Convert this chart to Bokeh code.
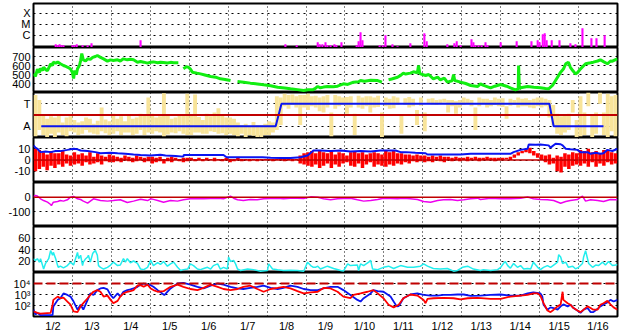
import numpy as np
from bokeh.plotting import figure
from bokeh.layouts import column
from bokeh.models import Range1d, FixedTicker, Grid, Span
from bokeh.embed import file_html
from bokeh.resources import INLINE

nan = float("nan")

# ---------------- data (time in days since 1/2 00:00) ----------------
day_labels = ["1/2", "1/3", "1/4", "1/5", "1/6", "1/7", "1/8", "1/9", "1/10",
              "1/11", "1/12", "1/13", "1/14", "1/15", "1/16"]

# X-ray flares: time, log10 peak flux
flare_t = [0.57, 0.62, 0.67, 0.72, 0.77, 1.00, 1.05, 1.11, 1.26, 1.39, 1.49, 2.75,
           6.47, 6.76, 7.30, 7.35, 7.42, 7.50, 7.55, 7.63, 7.73, 7.78, 7.91, 8.30,
           8.35, 8.40, 8.45, 8.89, 8.97, 9.04, 9.22, 9.35, 9.68, 10.04, 10.10, 10.63,
           10.81, 10.87, 10.97, 11.25, 11.30, 11.35, 11.43, 11.51, 11.61, 11.66, 12.00,
           12.41, 12.79, 12.95, 13.00, 13.08, 13.13, 13.18, 13.31, 13.51, 13.79, 13.92,
           14.10, 14.33, 14.46, 14.67]
flare_logflux = [-6.83, -6.92, -6.83, -6.92, -6.92, -6.92, -6.92, -6.83, -6.92, -6.92, -6.74, -6.46,
                 -6.83, -6.92, -6.65, -6.83, -6.83, -6.65, -6.92, -6.92, -6.83, -6.92, -6.65, -6.92,
                 -6.55, -5.74, -6.46, -6.92, -6.92, -6.01, -6.83, -7.00, -6.74, -5.83, -6.55, -6.83,
                 -6.74, -6.55, -6.92, -6.37, -6.65, -6.92, -6.92, -6.92, -6.65, -6.92, -6.65,
                 -6.55, -6.55, -6.46, -6.65, -5.92, -5.83, -6.46, -6.46, -6.46, -6.74, -6.83,
                 -5.37, -6.28, -6.28, -6.01]

# Solar wind speed (km/s)
speed_t = [0.00, 0.05, 0.10, 0.15, 0.18, 0.23, 0.26, 0.31, 0.36, 0.41, 0.44, 0.49, 0.51, 0.57,
           0.62, 0.69, 0.77, 0.83, 0.87, 0.92, 0.95, 1.00, 1.03, 1.06, 1.10, 1.13, 1.18, 1.21,
           1.24, 1.28, 1.34, 1.39, 1.46, 1.52, 1.59, 1.64, 1.72, 1.80, 1.90, 1.98, 2.05, 2.16,
           2.23, 2.31, 2.41, 2.49, 2.57, 2.67, 2.75, 2.83, 2.93, 3.01, 3.08, 3.19, 3.26, 3.34,
           3.44, 3.52, 3.60, 3.72, 3.75, 3.85, 3.92, 3.98, 4.03, 4.08, 4.20, 4.29, 4.40, 4.55,
           4.68, 4.80, 4.92, 5.06, 5.10, 5.24, 5.40, 5.57, 5.75, 5.91, 6.09, 6.27, 6.45, 6.60,
           6.78, 6.94, 7.05, 7.17, 7.24, 7.30, 7.37, 7.45, 7.55, 7.70, 7.81, 7.96, 8.07, 8.22,
           8.35, 8.40, 8.50, 8.66, 8.84, 8.95, 8.99, 9.12, 9.20, 9.35, 9.43, 9.50, 9.56, 9.68,
           9.76, 9.86, 9.89, 9.92, 9.94, 10.07, 10.15, 10.27, 10.38, 10.45, 10.55, 10.63, 10.75,
           10.79, 10.82, 10.97, 11.10, 11.23, 11.41, 11.48, 11.56, 11.74, 11.85, 12.00, 12.15,
           12.25, 12.38, 12.45, 12.46, 12.48, 12.51, 12.69, 12.85, 13.02, 13.15, 13.23, 13.33,
           13.46, 13.54, 13.61, 13.67, 13.74, 13.79, 13.85, 13.92, 13.97, 14.05, 14.18, 14.31,
           14.38, 14.49, 14.56, 14.65, 14.74, 14.82, 14.87, 14.95, 15.00]
speed_v = [508, 480, 560, 520, 567, 545, 581, 555, 544, 590, 619, 600, 637, 625,
           640, 619, 600, 590, 581, 570, 563, 520, 455, 544, 500, 563, 600, 655,
           733, 663, 650, 674, 668, 690, 700, 711, 690, 674, 648, 663, 655, 663,
           650, 674, 663, 670, 663, 637, 645, 637, 626, 637, 640, 630, 636, 633,
           628, 635, 630, 630, nan, 563, 585, 581, 560, 526, 515, 507, 495, 478,
           470, 452, 445, 433, nan, 422, 415, 404, 395, 385, 375, 359, 350, 341,
           332, 322, 330, 330, 345, 367, 352, 360, 367, 365, 370, 396, 390, 415,
           420, 433, 425, 435, 433, 415, nan, 441, 450, 470, 490, 515, 505, 515,
           530, 520, 600, 515, 507, 489, 500, 452, 470, 441, 460, 415, 430,
           500, 433, 415, 400, 378, 367, 396, 380, 352, 370, 389, 370,
           352, 330, 340, 600, 340, 352, 367, 358, 352, 345, 341, 378,
           470, 526, 560, 619, 637, 580, 544, 507, 520, 563, 619, 630,
           637, 650, 663, 640, 619, 650, 648, 665, 674]

# IMF sector: spread of phi angle (degrees) in 0.1-day bins
phi_t = [0.05 + 0.1 * i for i in range(150)]
phi_lo = [10, 60, 20, 0, 30, 0, 40, 20, 10, 50,
          40, 20, 30, 60, 40, 30, 25, 50, 35, 20,
          30, 50, 20, 40, 40, 20, 30, 60, 20, 40,
          30, 50, 40, 10, 25, 40, 35, 50, 30, 20,
          20, 40, 40, 30, 30, 50, 45, 30, 35, 20,
          30, 20, 10, 30, 0, 20, 15, 0, 5, 20,
          20, 40, 60, 100, 250, 230, 260, 240, 100, 240,
          220, 250, 240, 210, 200, 240, 10, 230, 250, 260,
          190, 240, 20, 240, 230, 250, 200, 240, 245, 0,
          250, 230, 235, 260, 30, 260, 240, 250, 100, 255,
          50, 270, 265, 260, 270, 280, 200, 250, 190, 240,
          260, 270, 250, 60, 250, 270, 240, 250, 260, 250,
          245, 150, 255, 260, 240, 250, 250, 240, 235, 250,
          240, 250, 160, 100, 30, 20, 40, 60, 200, 0,
          10, 20, 250, 0, 30, 270, 20, 0, 50, 10]
phi_hi = [340, 300, 175, 150, 170, 160, 180, 120, 160, 170,
          140, 120, 130, 160, 150, 110, 135, 240, 145, 130,
          190, 150, 170, 130, 185, 150, 160, 190, 180, 320,
          190, 160, 170, 355, 185, 150, 160, 180, 175, 350,
          180, 345, 165, 140, 190, 170, 200, 235, 175, 160,
          160, 150, 120, 100, 110, 90, 125, 100, 100, 110,
          130, 120, 330, 320, 350, 340, 345, 330, 340, 340,
          350, 330, 335, 320, 330, 340, 200, 340, 330, 320,
          325, 330, 190, 335, 320, 330, 330, 320, 335, 200,
          320, 310, 330, 320, 180, 315, 325, 310, 220, 320,
          200, 310, 315, 300, 305, 310, 300, 300, 290, 300,
          320, 310, 300, 240, 320, 310, 310, 300, 320, 310,
          315, 250, 310, 300, 320, 310, 315, 300, 310, 320,
          320, 310, 300, 260, 190, 170, 180, 190, 300, 140,
          330, 200, 360, 180, 200, 360, 200, 350, 330, 340]
sector_t = [0.20, 6.22, 6.37, 13.25, 13.36, 14.64]
sector_v = [90, 90, 270, 270, 90, 90]

# IMF Bt (nT)
bt_t = [0.00, 0.05, 0.10, 0.18, 0.31, 0.44, 0.57, 0.69, 0.87, 1.03, 1.13, 1.21, 1.39, 1.59,
        1.72, 1.98, 2.16, 2.36, 2.57, 2.75, 3.01, 3.26, 3.39, 3.65, 3.85, 3.86, 4.29, 4.55,
        4.88, 4.96, 5.32, 5.57, 5.88, 6.09, 6.34, 6.60, 6.86, 7.04, 7.19, 7.37, 7.63, 7.89,
        8.14, 8.40, 8.66, 8.91, 9.04, 9.30, 9.43, 9.56, 9.81, 10.07, 10.12, 10.45, 10.97,
        11.23, 11.48, 11.74, 12.00, 12.25, 12.33, 12.51, 12.69, 12.72, 12.90, 13.02, 13.23,
        13.28, 13.41, 13.54, 13.59, 13.67, 13.79, 13.97, 14.05, 14.23, 14.31, 14.44, 14.56,
        14.64, 14.74, 14.87, 15.00]
bt_v = [12.9, 11, 10, 7, 7.5, 7, 8, 7.9, 9, 10, 9.5, 8.4, 8, 7,
        6, 6.5, 6, 5.5, 4.9, 4.5, 4, 4.7, 4, 3.5, 3, 4.5, 4.5, 4.5,
        4.5, 2.5, 2.5, 2.5, 2.5, 2, 1.8, 1.8, 2.5, 4, 8.4, 8.4, 8, 8.4,
        7.5, 8, 7.5, 8.4, 8.4, 8.4, 7, 7, 6.5, 6, 4.9, 4.9, 4.9,
        5.5, 5.5, 5.5, 5.5, 5.5, 7, 9, 10, 13.8, 13.5, 13.8, 13,
        11, 14.4, 14, 13, 10, 9.5, 9, 7, 7, 5.5, 6.5, 5.5,
        6, 9, 8, 10]
# IMF Bz (nT): min / max in 0.1-day bins
bz_t = [0.05 + 0.1 * i for i in range(150)]
bz_lo = [-10, -8, -6, -9, -5, -7, -4, -6, -3, -5,
         -4, -3, -5, -2, -4, -3, -2, -4, -1, -2,
         -2, -1, -2, 0, -1, -2, -1, 0, -2, -1,
         -3, -2, -1, -3, -1, -2, 0, -1, -2, -1,
         0, -1, 0, -1, 0, 0, -1, 0, -1, 0,
         -2, -1, 0, -1, 0, -1, 0, -1, 0, 0,
         0, -1, 0, 0, -1, 0, -1, 0, -3, -4,
         -5, -6, -4, -7, -5, -3, -7, -4, -6, -3,
         -2, -5, -6, -3, -7, -4, -2, -6, -4, -5,
         -6, -4, -5, -3, -4, -2, -3, -1, -2, -1,
         -2, -1, -2, 0, -1, -2, 0, -1, 0, -1,
         0, -1, 0, 0, -1, 0, 0, 0, -1, 0,
         0, 1, 0, 2, 4, 6, 7, 6, 4, 2,
         0, -2, -4, -3, -10, -11, -6, -8, -5, -4,
         -5, -3, -6, -2, -6, -3, -5, -2, -4, -3]
bz_hi = [10, 9, 7, 5, 8, 6, 6, 8, 5, 4,
         7, 5, 6, 4, 7, 3, 6, 4, 3, 5,
         4, 3, 2, 4, 3, 2, 4, 3, 2, 3,
         3, 2, 3, 1, 2, 3, 2, 1, 2, 2,
         2, 1, 2, 1, 2, 1, 2, 1, 1, 2,
         1, 1, 2, 1, 1, 1, 1, 1, 1, 1,
         1, 1, 1, 1, 1, 2, 1, 1, 4, 6,
         7, 8, 6, 8, 7, 6, 8, 5, 7, 6,
         4, 7, 8, 6, 7, 5, 6, 7, 6, 5,
         8, 7, 8, 6, 6, 5, 5, 4, 5, 4,
         4, 3, 4, 3, 4, 3, 3, 2, 3, 2,
         2, 3, 2, 3, 2, 2, 3, 2, 2, 2,
         2, 2, 3, 5, 7, 8, 10, 11, 8, 6,
         5, 4, 5, 2, 4, 3, 6, 5, 7, 6,
         9, 8, 10, 7, 8, 6, 9, 8, 7, 6]

# Dst (nT)
dst_t = [0.00, 0.05, 0.10, 0.18, 0.26, 0.36, 0.44, 0.46, 0.51, 0.62, 0.69, 0.77, 0.87, 0.95,
         1.03, 1.13, 1.21, 1.28, 1.39, 1.46, 1.54, 1.72, 1.90, 2.05, 2.23, 2.41, 2.57, 2.75,
         2.93, 3.01, 3.08, 3.19, 3.34, 3.52, 3.70, 3.85, 4.03, 4.21, 4.37, 4.55, 4.73, 4.88,
         5.06, 5.14, 5.24, 5.39, 5.57, 5.75, 5.91, 6.09, 6.27, 6.42, 6.60, 6.78, 6.94, 7.12,
         7.30, 7.45, 7.63, 7.81, 7.96, 8.14, 8.32, 8.48, 8.66, 8.84, 8.99, 9.17, 9.35, 9.50,
         9.68, 9.86, 10.02, 10.20, 10.38, 10.53, 10.71, 10.89, 11.05, 11.23, 11.41, 11.48,
         11.74, 12.00, 12.25, 12.51, 12.69, 12.84, 13.02, 13.20, 13.36, 13.54, 13.67, 13.79,
         13.97, 14.10, 14.18, 14.31, 14.49, 14.64, 14.82, 15.00]
dst_v = [5, 11, 8, -11, -23, -34, -50, -57, -34, -30, -23, -27, -18, 0,
         5, -11, -16, -27, -41, -27, -11, -23, -27, -23, -18, -36, -27, -14,
         -23, -11, -15, -23, -34, -23, -27, -18, -11, -11, -10, -9, -7, -11,
         7, -7, -18, -23, -16, -18, -11, -9, -7, -11, -7, -7, -9, 2,
         0, -11, -18, -11, -9, -7, -18, -27, -23, -16, -7, -9, -11, -7,
         -11, -16, -30, -34, -23, -18, -16, -23, -18, -11, -7, -16,
         -7, -11, -11, -7, 1, -11, -16, -18, -23, -41, -30, -23,
         -16, 7, -27, -18, -23, -30, -16, -18]

# Activity index (cyan)
kp_t = [0.00, 0.05, 0.10, 0.15, 0.18, 0.23, 0.26, 0.31, 0.36, 0.39, 0.44, 0.49, 0.51, 0.57,
        0.62, 0.64, 0.69, 0.77, 0.87, 0.95, 1.03, 1.13, 1.16, 1.21, 1.26, 1.28, 1.34, 1.39,
        1.41, 1.46, 1.52, 1.54, 1.59, 1.64, 1.67, 1.72, 1.80, 1.90, 1.98, 2.05, 2.16, 2.23,
        2.31, 2.36, 2.41, 2.49, 2.57, 2.67, 2.75, 2.83, 2.93, 3.01, 3.08, 3.19, 3.26, 3.34,
        3.44, 3.52, 3.60, 3.70, 3.78, 3.85, 3.96, 4.03, 4.11, 4.21, 4.29, 4.37, 4.47, 4.55,
        4.62, 4.73, 4.80, 4.88, 4.98, 5.01, 5.06, 5.14, 5.19, 5.24, 5.32, 5.50, 5.65, 5.83,
        6.01, 6.04, 6.14, 6.27, 6.42, 6.60, 6.78, 6.94, 7.04, 7.12, 7.19, 7.24, 7.30, 7.37,
        7.55, 7.71, 7.89, 7.96, 8.07, 8.14, 8.32, 8.35, 8.40, 8.48, 8.61, 8.66, 8.71, 8.84,
        8.99, 9.12, 9.25, 9.43, 9.61, 9.76, 9.94, 10.02, 10.12, 10.27, 10.45, 10.63, 10.79,
        10.89, 11.02, 11.15, 11.30, 11.48, 11.56, 11.74, 11.92, 12.00, 12.07, 12.12, 12.18,
        12.25, 12.33, 12.43, 12.51, 12.59, 12.69, 12.77, 12.84, 12.95, 13.02, 13.10, 13.20,
        13.28, 13.36, 13.46, 13.49, 13.54, 13.59, 13.67, 13.74, 13.85, 13.92, 14.00, 14.10,
        14.13, 14.18, 14.23, 14.26, 14.36, 14.44, 14.51, 14.62, 14.69, 14.77, 14.87, 14.95,
        15.00]
kp_v = [24, 21, 24, 18, 24, 13, 6, 16, 21, 24, 38, 30, 35, 24,
        12, 9, 11, 8, 12, 18, 13, 35, 24, 30, 12, 18, 24, 27,
        30, 18, 33, 35, 38, 30, 12, 9, 6, 9, 13, 18, 12, 13,
        24, 18, 24, 17, 20, 16, 6, 5, 9, 21, 12, 17, 14, 19,
        11, 15, 18, 9, 3.5, 5, 6, 15, 12, 6, 5, 7, 9, 6,
        12, 15, 6, 9, 6, 27, 19, 21, 15, 6, 3.5, 6, 5, 2.3,
        3.5, 15, 6, 4.6, 3.5, 4, 3.5, 2.3, 18, 12, 9, 9, 11, 6,
        11, 7, 3.5, 2.5, 15, 12, 13, 3.5, 15, 12, 18, 21, 6, 5,
        9, 11, 7, 12, 9, 9, 11, 15, 11, 7, 6, 7, 2.3,
        3.5, 9, 11, 6, 3.5, 5, 3.5, 5, 9, 15.6, 19, 12,
        7.5, 15.6, 9, 12, 6, 7, 6, 18, 9, 5, 9, 12,
        9, 13, 18, 31, 27, 15.6, 18, 9, 11, 6.4, 9, 15.6,
        27, 38, 24, 15.6, 9, 13, 12, 18, 13, 19, 12, 13,
        14]

# Electron flux (log10), two monitors
e_blue_t = [0.00, 0.05, 0.10, 0.18, 0.44, 0.49, 0.51, 0.62, 0.69, 0.77, 0.87, 0.95, 1.03,
            1.13, 1.21, 1.28, 1.39, 1.46, 1.54, 1.64, 1.72, 1.80, 1.90, 1.98, 2.05, 2.16,
            2.23, 2.31, 2.41, 2.49, 2.57, 2.67, 2.75, 2.83, 2.93, 3.01, 3.08, 3.19, 3.34,
            3.36, 3.52, 3.70, 3.85, 4.03, 4.21, 4.37, 4.55, 4.73, 4.88, 5.06, 5.24, 5.39,
            5.57, 5.75, 5.91, 6.09, 6.27, 6.42, 6.60, 6.78, 6.94, 7.12, 7.30, 7.45, 7.63,
            7.81, 7.96, 8.14, 8.32, 8.40, 8.48, 8.66, 8.73, 8.84, 8.99, 9.17, 9.25, 9.33,
            9.38, 9.43, 9.50, 9.68, 9.86, 10.02, 10.20, 10.38, 10.53, 10.71, 10.89, 11.05,
            11.23, 11.48, 11.74, 12.00, 12.25, 12.51, 12.69, 12.84, 13.02, 13.07, 13.10,
            13.20, 13.28, 13.36, 13.46, 13.54, 13.61, 13.72, 13.79, 13.87, 13.97, 14.05,
            14.13, 14.23, 14.31, 14.38, 14.49, 14.56, 14.64, 14.74, 14.82, 14.90, 15.00]
e_blue_log = [1.62, 1.18, 1.33, 1.12, 1.12, 1.12, 1.92, 2.51, 2.66, 3.10, 2.96, 2.81, 2.36,
              1.62, 2.07, 1.62, 2.51, 3.10, 2.96, 3.40, 3.55, 3.60, 3.47, 2.96, 2.66, 3.10,
              2.81, 3.25, 3.40, 3.47, 3.55, 3.70, 3.90, 4.00, 3.90, 3.85, 3.70, 3.40, 3.00,
              2.95, 3.55, 4.00, 4.05, 3.90, 3.70, 3.55, 3.80, 4.00, 3.90, 3.70, 3.55, 3.50,
              3.60, 3.70, 3.80, 3.60, 3.50, 3.60, 3.80, 3.70, 3.50, 3.40, 3.40, 3.55, 3.70,
              3.70, 3.40, 2.96, 2.51, 2.36, 2.66, 3.10, 3.40, 3.30, 3.25, 2.81, 2.36, 1.92,
              1.95, 2.21, 2.66, 3.00, 3.10, 2.96, 2.90, 2.90, 2.96, 2.96, 3.00, 3.00,
              2.87, 2.90, 2.96, 3.00, 2.90, 2.90, 3.10, 3.20, 3.10, 2.81, 2.07,
              1.62, 1.83, 1.77, 1.62, 1.92, 2.10, 1.92, 2.07, 1.77, 1.55, 1.33,
              1.62, 1.77, 1.40, 1.40, 1.70, 1.92, 2.10, 2.28, 2.51, 2.36, 2.51]
e_red_t = [0.00, 0.10, 0.18, 0.44, 0.49, 0.51, 0.62, 0.69, 0.77, 0.87, 0.95, 1.03, 1.13,
           1.21, 1.28, 1.39, 1.46, 1.54, 1.64, 1.72, 1.80, 1.90, 1.98, 2.05, 2.16, 2.23,
           2.31, 2.41, 2.49, 2.57, 2.67, 2.75, 2.83, 2.93, 3.01, 3.08, 3.19, 3.34, 3.52,
           3.70, 3.85, 4.03, 4.21, 4.37, 4.55, 4.73, 4.88, 5.06, 5.24, 5.39, 5.57, 5.75,
           5.91, 6.09, 6.27, 6.42, 6.60, 6.78, 6.94, 7.12, 7.30, 7.45, 7.63, 7.81, 7.96,
           8.14, 8.22, 8.40, 8.58, 8.73, 8.84, 8.99, 9.12, 9.25, 9.38, 9.50, 9.68, 9.86,
           10.02, 10.07, 10.12, 10.27, 10.53, 10.79, 10.97, 11.15, 11.41, 11.74, 12.00,
           12.25, 12.51, 12.69, 12.84, 12.95, 13.02, 13.10, 13.20, 13.28, 13.36, 13.46,
           13.54, 13.59, 13.61, 13.72, 13.79, 13.87, 13.97, 14.05, 14.13, 14.23, 14.31,
           14.38, 14.49, 14.56, 14.64, 14.74, 14.82, 14.90, 15.00]
e_red_log = [1.47, 1.33, 1.27, 1.33, 2.07, 2.51, 2.81, 2.66, 2.71, 2.36, 2.07, 1.47, 1.40,
             1.92, 2.21, 2.66, 2.96, 3.25, 3.40, 3.25, 2.81, 2.90, 2.51, 2.21, 2.42, 2.81,
             3.10, 3.25, 3.30, 3.40, 3.80, 3.85, 3.70, 3.90, 3.55, 3.40, 3.25, 3.30, 3.70,
             3.90, 3.70, 3.50, 3.40, 3.60, 3.90, 3.70, 3.50, 3.40, 3.50, 3.70, 3.80, 3.50,
             3.25, 3.50, 3.60, 3.70, 3.55, 3.30, 3.10, 3.20, 3.25, 3.60, 3.55, 3.25, 2.81,
             2.66, 2.96, 3.10, 3.25, 3.40, 3.10, 2.66, 2.07, 1.83, 2.07, 2.66, 3.00, 2.90,
             2.51, 2.21, 2.60, 2.66, 2.70, 2.66, 2.55, 2.66, 2.70, 2.60, 2.60,
             2.81, 2.90, 2.96, 3.10, 3.10, 2.90, 2.21, 1.55, 1.40, 1.62, 1.92,
             2.10, 3.25, 2.51, 2.21, 2.07, 1.77, 1.55, 1.40, 1.62, 1.92, 1.77,
             1.62, 1.62, 2.07, 2.21, 2.42, 2.10, 1.83, 1.62]

# ---------------- styling ----------------
FONT = "Liberation Sans"
FONT_SIZE = "11px"
GRID_DAYS = list(range(1, 15))
NOONS = [i + 0.5 for i in range(15)]
DARK_RED = "#C00000"
BLUE = "#0A14F0"

x_range = Range1d(0, 15)


def make_panel(frame_h, y_range, yticks, ylabels, top=0, bottom=False, log=False):
    h = frame_h + top + (17 if bottom else 0)
    p = figure(width=628, height=h, x_range=x_range, y_range=y_range,
               y_axis_type="log" if log else "linear",
               x_axis_location="below" if bottom else None,
               toolbar_location=None, output_backend="svg",
               min_border_left=33, min_border_right=11, min_border_top=top,
               min_border_bottom=17 if bottom else 0)
    p.grid.visible = False
    p.outline_line_color = "black"
    p.outline_line_width = 2
    p.background_fill_color = "white"
    p.border_fill_color = "white"
    ya = p.yaxis[0]
    ya.ticker = FixedTicker(ticks=yticks)
    ya.major_label_overrides = {t: l for t, l in zip(yticks, ylabels)}
    ya.major_tick_line_color = None
    ya.minor_tick_line_color = None
    ya.major_tick_out = 0
    ya.major_tick_in = 0
    ya.minor_tick_out = 0
    ya.minor_tick_in = 0
    ya.axis_line_color = None
    ya.major_label_standoff = 3
    ya.major_label_text_font = FONT
    ya.major_label_text_font_size = FONT_SIZE
    ya.major_label_text_color = "black"
    p.add_layout(Grid(dimension=0, ticker=FixedTicker(ticks=GRID_DAYS),
                      grid_line_color="black", grid_line_dash="1 3", grid_line_width=1))
    p.add_layout(Grid(dimension=1, ticker=FixedTicker(ticks=yticks),
                      grid_line_color="black", grid_line_dash="2 4", grid_line_width=1))
    if bottom:
        xa = p.xaxis[0]
        xa.ticker = FixedTicker(ticks=NOONS)
        xa.major_label_overrides = {t: l for t, l in zip(NOONS, day_labels)}
        xa.major_tick_line_color = None
        xa.minor_tick_line_color = None
        xa.major_tick_out = 0
        xa.major_tick_in = 0
        xa.minor_tick_out = 0
        xa.minor_tick_in = 0
        xa.axis_line_color = None
        xa.major_label_standoff = 3
        xa.major_label_text_font = FONT
        xa.major_label_text_font_size = FONT_SIZE
        xa.major_label_text_color = "black"
    return p


# Panel 1: X-ray flares
p1 = make_panel(44, Range1d(-7.1, -3.1), [-6, -5, -4], ["C", "M", "X"], top=3)
p1.vbar(x=flare_t, width=0.04, bottom=-7.1, top=flare_logflux,
        fill_color="#FF00FF", line_color="#FF00FF", line_width=0.5)

# Panel 2: solar wind speed
p2 = make_panel(45, Range1d(300, 800), [400, 500, 600, 700], ["400", "500", "600", "700"])
p2.line(speed_t, speed_v, line_color="#11EE11", line_width=3)

# Panel 3: sector
p3 = make_panel(45, Range1d(0, 360), [90, 270], ["A", "T"])
p3.vbar(x=phi_t, width=0.1, bottom=phi_lo, top=phi_hi,
        fill_color="#F8E49A", line_color=None)
p3.add_layout(Span(location=180, dimension="width", line_color=DARK_RED, line_width=2))
p3.line(sector_t, sector_v, line_color=BLUE, line_width=2)

# Panel 4: IMF Bt / Bz
p4 = make_panel(45, Range1d(-20, 20), [-10, 0, 10], ["-10", "0", "10"])
p4.vbar(x=bz_t, width=0.09, bottom=bz_lo, top=bz_hi,
        fill_color="#FF0000", line_color=None)
p4.line(bt_t, bt_v, line_color=BLUE, line_width=2)
p4.add_layout(Span(location=0, dimension="width", line_color=DARK_RED, line_width=1.5))

# Panel 5: Dst
p5 = make_panel(44, Range1d(-200, 100), [-100, 0], ["-100", "0"])
p5.add_layout(Span(location=0, dimension="width", line_color=DARK_RED, line_width=1.5))
p5.line(dst_t, dst_v, line_color="#EE00EE", line_width=1.5)

# Panel 6: activity index
p6 = make_panel(46, Range1d(0, 80), [20, 40, 60], ["20", "40", "60"])
p6.line(kp_t, kp_v, line_color="#22EEEE", line_width=1.5)

# Panel 7: electron flux (log)
p7 = make_panel(45, Range1d(10, 1e5), [100, 1000, 10000], ["10²", "10³", "10⁴"],
                bottom=True, log=True)
p7.add_layout(Span(location=1e4, dimension="width", line_color=DARK_RED,
                   line_width=2, line_dash="9 4"))
p7.line(e_blue_t, np.power(10.0, e_blue_log), line_color=BLUE, line_width=1.8)
p7.line(e_red_t, np.power(10.0, e_red_log), line_color="#FF0000", line_width=1.8)

layout = column([p1, p2, p3, p4, p5, p6, p7], spacing=0)
open("out.html", "w").write(file_html(layout, INLINE))
